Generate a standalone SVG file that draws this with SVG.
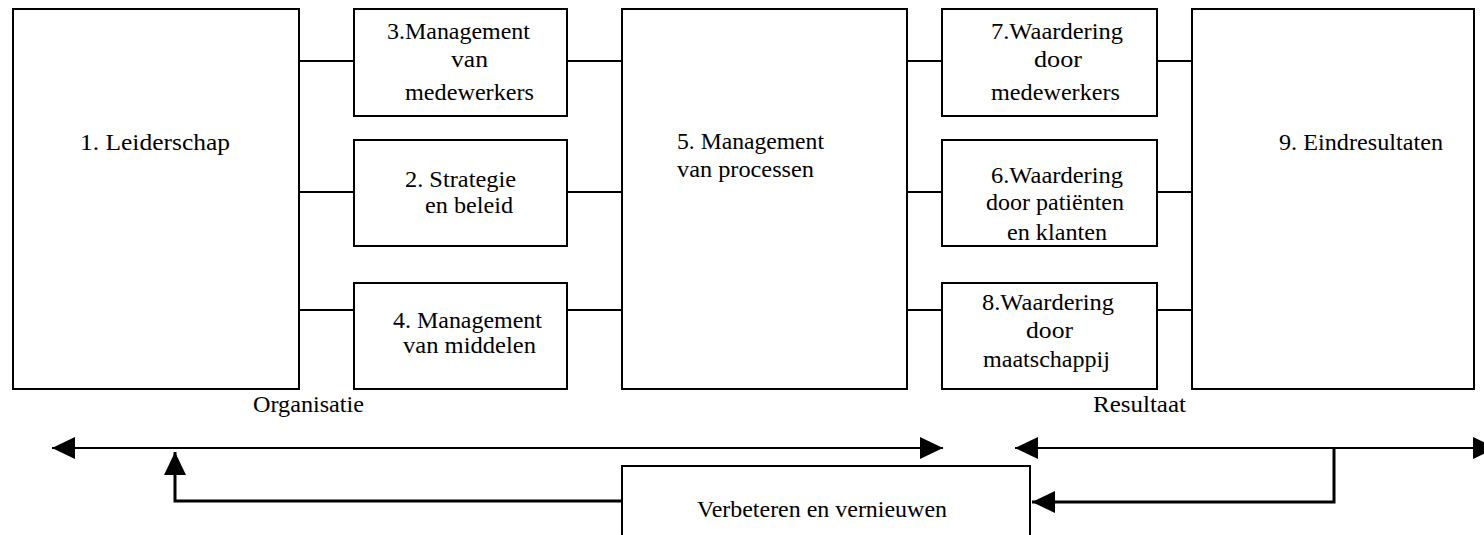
<svg xmlns="http://www.w3.org/2000/svg" width="1484" height="535" viewBox="0 0 1484 535">
<style>
.box{fill:#fff;stroke:#000;stroke-width:2}
.t{font-family:"Liberation Serif","Times New Roman",serif;font-size:23px;fill:#000}
.c{fill:none;stroke:#000;stroke-width:2}
.f{fill:none;stroke:#000;stroke-width:3}
</style>
<defs>
<marker id="ah" markerUnits="userSpaceOnUse" markerWidth="23" markerHeight="22" refX="23" refY="11" orient="auto-start-reverse" viewBox="0 0 23 22">
<path d="M0,0 L23,11 L0,22 z" fill="#000"/>
</marker>
</defs>
<rect width="1484" height="535" fill="#fff"/>
<g id="connectors">
<path class="c" d="M299,61 H354 M299,192 H354 M299,310 H354"/>
<path class="c" d="M567,61 H622 M567,192 H622 M567,310 H622"/>
<path class="c" d="M907,61 H942 M907,192 H942 M907,310 H942"/>
<path class="c" d="M1157,61 H1192 M1157,192 H1192 M1157,310 H1192"/>
<line class="c" x1="52" y1="448" x2="943" y2="448" marker-start="url(#ah)" marker-end="url(#ah)"/>
<line class="c" x1="1015" y1="448" x2="1496" y2="448" marker-start="url(#ah)" marker-end="url(#ah)"/>
<path class="f" d="M1334,448 V502 H1032" marker-end="url(#ah)"/>
<path class="f" d="M622,501 H175 V452" marker-end="url(#ah)"/>
</g>
<g id="n1"><rect class="box" x="13" y="9" width="286" height="380"/>
<text class="t" x="80" y="150" textLength="150" lengthAdjust="spacingAndGlyphs">1. Leiderschap</text></g>
<g id="n3"><rect class="box" x="354" y="9" width="213" height="107"/>
<text class="t" x="387" y="39" textLength="143" lengthAdjust="spacingAndGlyphs">3.Management</text>
<text class="t" x="451" y="67" textLength="37" lengthAdjust="spacingAndGlyphs">van</text>
<text class="t" x="405" y="100" textLength="129" lengthAdjust="spacingAndGlyphs">medewerkers</text></g>
<g id="n2"><rect class="box" x="354" y="140" width="213" height="106"/>
<text class="t" x="405" y="187" textLength="111" lengthAdjust="spacingAndGlyphs">2. Strategie</text>
<text class="t" x="425" y="213" textLength="88" lengthAdjust="spacingAndGlyphs">en beleid</text></g>
<g id="n4"><rect class="box" x="354" y="283" width="213" height="106"/>
<text class="t" x="393" y="328" textLength="149" lengthAdjust="spacingAndGlyphs">4. Management</text>
<text class="t" x="403" y="353" textLength="133" lengthAdjust="spacingAndGlyphs">van middelen</text></g>
<g id="n5"><rect class="box" x="622" y="9" width="285" height="380"/>
<text class="t" x="677" y="149" textLength="147" lengthAdjust="spacingAndGlyphs">5. Management</text>
<text class="t" x="677" y="177" textLength="137" lengthAdjust="spacingAndGlyphs">van processen</text></g>
<g id="n7"><rect class="box" x="942" y="9" width="215" height="107"/>
<text class="t" x="991" y="39" textLength="132" lengthAdjust="spacingAndGlyphs">7.Waardering</text>
<text class="t" x="1034" y="67" textLength="48" lengthAdjust="spacingAndGlyphs">door</text>
<text class="t" x="991" y="100" textLength="129" lengthAdjust="spacingAndGlyphs">medewerkers</text></g>
<g id="n6"><rect class="box" x="942" y="140" width="215" height="106"/>
<text class="t" x="991" y="183" textLength="132" lengthAdjust="spacingAndGlyphs">6.Waardering</text>
<text class="t" x="986" y="210" textLength="138" lengthAdjust="spacingAndGlyphs">door patiënten</text>
<text class="t" x="1007" y="240" textLength="100" lengthAdjust="spacingAndGlyphs">en klanten</text></g>
<g id="n8"><rect class="box" x="942" y="283" width="215" height="106"/>
<text class="t" x="982" y="310" textLength="132" lengthAdjust="spacingAndGlyphs">8.Waardering</text>
<text class="t" x="1026" y="338" textLength="47" lengthAdjust="spacingAndGlyphs">door</text>
<text class="t" x="983" y="367" textLength="127" lengthAdjust="spacingAndGlyphs">maatschappij</text></g>
<g id="n9"><rect class="box" x="1192" y="9" width="282" height="380"/>
<text class="t" x="1279" y="150" textLength="164" lengthAdjust="spacingAndGlyphs">9. Eindresultaten</text></g>
<g id="labels">
<text class="t" x="253" y="412" textLength="111" lengthAdjust="spacingAndGlyphs">Organisatie</text>
<text class="t" x="1093" y="412" textLength="93" lengthAdjust="spacingAndGlyphs">Resultaat</text>
</g>
<g id="n10"><rect class="box" x="622" y="466" width="408" height="80"/>
<text class="t" x="697" y="517" textLength="250" lengthAdjust="spacingAndGlyphs">Verbeteren en vernieuwen</text></g>
</svg>
